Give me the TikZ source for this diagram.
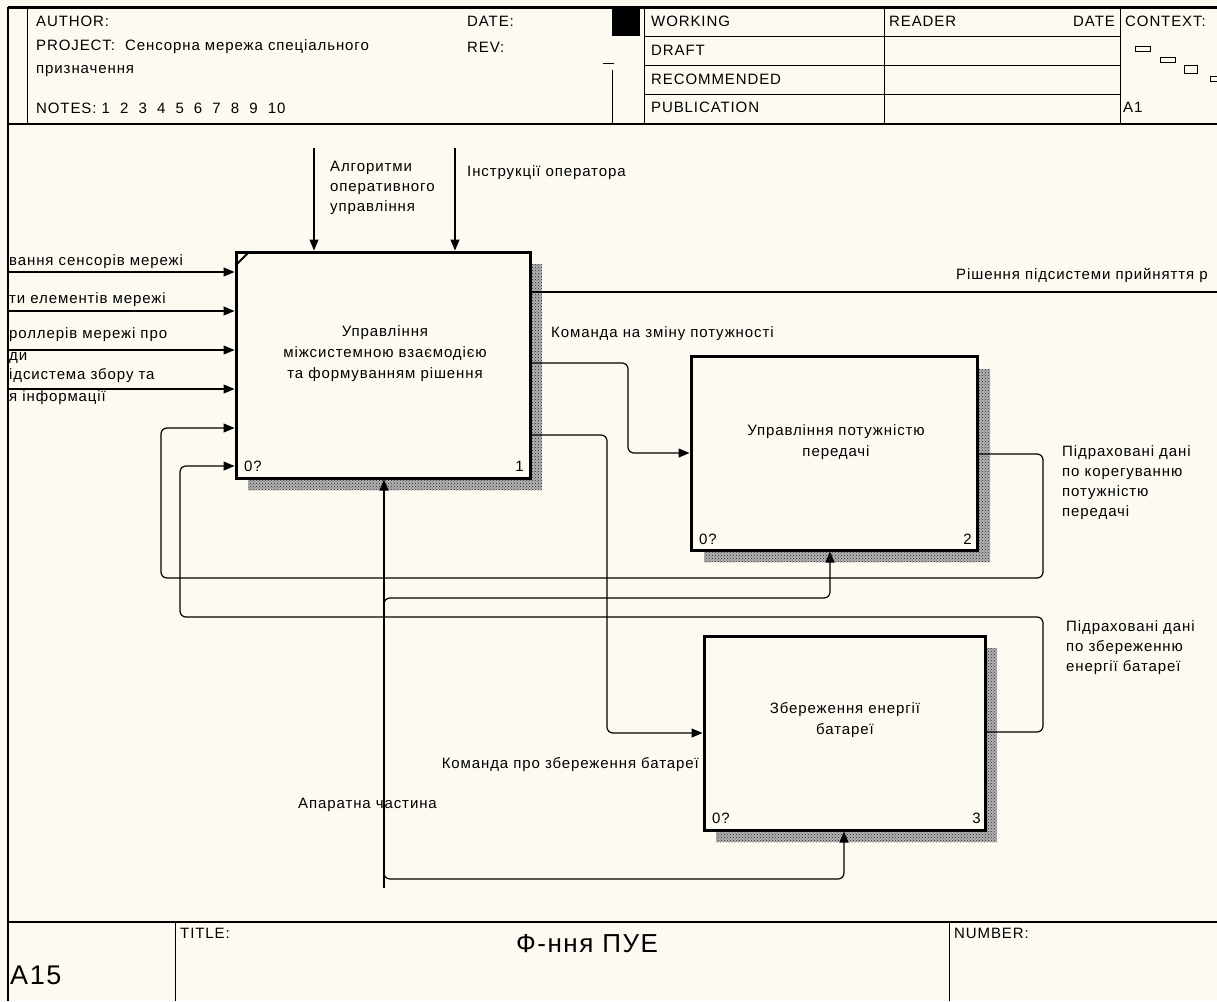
\documentclass[tikz,border=0pt]{standalone}
\usepackage{fontspec}
\setmainfont{Liberation Sans}[LetterSpace=6]
\usetikzlibrary{arrows.meta,patterns,calc}
\definecolor{bg}{RGB}{253,251,241}
\begin{document}
\begin{tikzpicture}[x=1pt,y=-1pt,
  txt/.style={inner sep=0pt, font=\fontsize{15}{20}\selectfont, anchor=west, align=left},
  ctxt/.style={inner sep=0pt, font=\fontsize{15}{21}\selectfont, align=center},
  boxst/.style={draw, line width=3pt, fill=bg, inner sep=0pt},
  conn/.style={line width=1.2pt, rounded corners=6pt},
  arr/.style={conn, -{Triangle[length=11pt,width=9pt]}},
  frame/.style={line width=1pt},
  shadowst/.style={fill=black!30, postaction={pattern=crosshatch dots, pattern color=black!85}, draw=none}
]
\fill[bg] (0,0) rectangle (1217,1001);
\useasboundingbox (0,0) rectangle (1217,1001);

% ---------- header ----------
\draw[line width=3pt] (8,7) -- (1217,7);
\draw[line width=1.5pt] (8,7) -- (8,1001);
\draw[line width=1.5pt] (8,124) -- (1217,124);
\draw[frame] (27,7) -- (27,124);
\fill (612,7) rectangle (640,36);
\draw[frame] (603,63) -- (614,63);
\draw[frame] (612,70) -- (612,124);
\draw[frame] (644,7) -- (644,124);
\draw[frame] (884,7) -- (884,124);
\draw[frame] (1120,7) -- (1120,124);
\draw[frame] (644,36) -- (1120,36);
\draw[frame] (644,65) -- (1120,65);
\draw[frame] (644,94) -- (1120,94);

\node[txt] (hauthor) at (36,21) {AUTHOR:};
\node[txt] (hproj) at (36,47) {PROJECT:\ \ Сенсорна мережа спеціального};
\node[txt] (hproj2) at (36,71) {призначення};
\node[txt] (hnotes) at (36,108) {NOTES:\ 1\ \ 2\ \ 3\ \ 4\ \ 5\ \ 6\ \ 7\ \ 8\ \ 9\ \ 10};
\node[txt] (hdate) at (467,21) {DATE:};
\node[txt] (hrev) at (467,47) {REV:};
\node[txt] (hwork) at (651,21) {WORKING};
\node[txt] (hdraft) at (651,50) {DRAFT};
\node[txt] (hrec) at (651,79) {RECOMMENDED};
\node[txt] (hpub) at (651,107) {PUBLICATION};
\node[txt] (hread) at (889,21) {READER};
\node[txt,anchor=east] (hdate2) at (1115,21) {DATE};
\node[txt] (hctx) at (1125,21) {CONTEXT:};
\node[txt] (ha1) at (1123,107) {A1};
\draw[frame] (1135,46) rectangle (1150,51);
\draw[frame] (1160,57) rectangle (1175,62);
\draw[frame] (1184,65) rectangle (1197,73);
\draw[frame] (1210,76) rectangle (1224,81);

% ---------- footer ----------
\draw[line width=1.5pt] (8,922) -- (1217,922);
\draw[frame] (175,922) -- (175,1001);
\draw[frame] (949,922) -- (949,1001);
\node[txt] (ftitle) at (180,933) {TITLE:};
\node[inner sep=0pt, font=\fontsize{26}{30}\selectfont] (fname) at (587,944) {Ф-ння ПУЕ};
\node[txt] (fnum) at (954,933) {NUMBER:};
\node[inner sep=0pt, anchor=west, font=\fontsize{27}{30}\selectfont] (fa15) at (10,975) {A15};

% ---------- shadows ----------
\fill[shadowst] (248,264) rectangle (542,490);
\fill[shadowst] (704,369) rectangle (990,562);
\fill[shadowst] (716,648) rectangle (997,842);

% ---------- boxes ----------
\node[boxst, minimum width=294pt, minimum height=226pt] (b1) at (383,365) {};
\node[boxst, minimum width=286pt, minimum height=194pt] (b2) at (834,453) {};
\node[boxst, minimum width=281pt, minimum height=194pt] (b3) at (844.5,733) {};
\draw[line width=2pt, line cap=butt] ($(b1.north west)+(1,15)$) -- ($(b1.north west)+(15,1)$);

\node[ctxt] (t1) at (385,354) {Управління\\міжсистемною взаємодією\\та формуванням рішення};
\node[ctxt] (t2) at (836,442) {Управління потужністю\\передачі};
\node[ctxt] (t3) at (845,720) {Збереження енергії\\батареї};

\node[txt] (n1a) at (244,466) {0?};
\node[txt,anchor=east] (n1b) at (524,466) {1};
\node[txt] (n2a) at (699,539) {0?};
\node[txt,anchor=east] (n2b) at (972,539) {2};
\node[txt] (n3a) at (712,818) {0?};
\node[txt,anchor=east] (n3b) at (981,818) {3};

% ---------- inputs of box 1 ----------
\coordinate (i1) at (8,272);
\coordinate (i2) at (8,311);
\coordinate (i3) at (8,350);
\coordinate (i4) at (8,389);
\draw[arr] (i1) -- (i1 -| b1.west);
\draw[arr] (i2) -- (i2 -| b1.west);
\draw[arr] (i3) -- (i3 -| b1.west);
\draw[arr] (i4) -- (i4 -| b1.west);
\node[txt] (li1) at (9,262) {вання сенсорів мережі};
\node[txt] (li2) at (9,300) {ти елементів мережі};
\node[txt] (li3) at (9,335) {роллерів мережі про};
\node[txt] (li3b) at (9,358) {ди};
\node[txt] (li4) at (9,376) {ідсистема збору та};
\node[txt] (li4b) at (9,398) {я інформації};

% ---------- controls ----------
\coordinate (c1) at (314,148);
\coordinate (c2) at (455,148);
\draw[arr] (c1) -- (c1 |- b1.north);
\draw[arr] (c2) -- (c2 |- b1.north);
\node[txt] (lc1) at (330,188) {Алгоритми\\оперативного\\управління};
\node[txt] (lc2) at (467,173) {Інструкції оператора};

% ---------- outputs of box 1 ----------
\coordinate (o1) at (1217,292);
\draw[conn] (o1 -| b1.east) -- (o1);
\node[txt] (lo1) at (956,275) {Рішення підсистеми прийняття р};

\draw[arr] (b1.east |- 0,363) -- (628,363) -- (628,453) -- (b2.west |- 0,453);
\node[txt] (lo2) at (551,334) {Команда на зміну потужності};

\draw[arr] (b1.east |- 0,435) -- (607,435) -- (607,733) -- (b3.west |- 0,733);
\node[txt,anchor=east] (lo3) at (699,765) {Команда про збереження батареї};

% ---------- feedback loops ----------
\draw[arr] (b2.east |- 0,454) -- (1043,454) -- (1043,578) -- (161,578) -- (161,428) -- (b1.west |- 0,428);
\node[txt] (lf1) at (1062,483) {Підраховані дані\\по корегуванню\\потужністю\\передачі};

\draw[arr] (b3.east |- 0,732) -- (1043,732) -- (1043,617) -- (180,617) -- (180,466) -- (b1.west |- 0,466);
\node[txt] (lf2) at (1066,648) {Підраховані дані\\по збереженню\\енергії батареї};

% ---------- mechanism ----------
\coordinate (m0) at (384,888);
\coordinate (m2) at (830,598);
\coordinate (m3) at (844,879);
\draw[arr] (m0) -- (m0 |- b1.south);
\draw[arr] (384,608) -- (384,598) -- (m2) -- (m2 |- b2.south);
\draw[arr] (384,871) -- (384,879) -- (m3) -- (m3 |- b3.south);
\node[txt] (lm) at (298,805) {Апаратна частина};
\end{tikzpicture}
\end{document}
